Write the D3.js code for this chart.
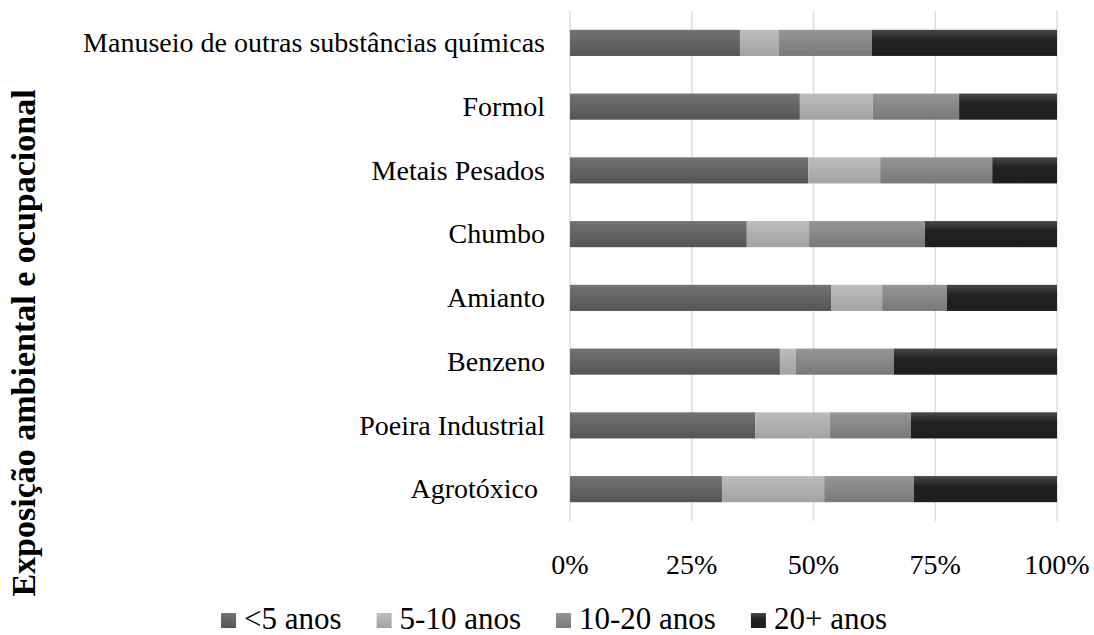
<!DOCTYPE html>
<html>
<head>
<meta charset="utf-8">
<script src="https://cdn.jsdelivr.net/npm/d3@7"></script>
<style>
  body { margin: 0; background: #fff; }
  text { font-family: "Liberation Serif", "Times New Roman", serif; fill: #000; }
</style>
</head>
<body>
<script>
// categories, top to bottom
var categories = ["Manuseio de outras substâncias químicas", "Formol", "Metais Pesados", "Chumbo",
                  "Amianto", "Benzeno", "Poeira Industrial", "Agrotóxico "];
var seriesNames = ["<5 anos", "5-10 anos", "10-20 anos", "20+ anos"];

// percentages
var menos5  = [34.9, 47.2, 48.9, 36.3, 53.6, 43.1, 38.0, 31.2];
var de5a10  = [8.0, 15.0, 14.8, 12.8, 10.5, 3.3, 15.4, 21.0];
var de10a20 = [19.1, 17.7, 23.0, 23.8, 13.3, 20.1, 16.6, 18.4];
var mais20  = [38.0, 20.1, 13.3, 27.1, 22.6, 33.5, 30.0, 29.4];

var ticks = [0, 25, 50, 75, 100];

var width = 1094,
    height = 635;

var svg = d3.select("body").append("svg")
    .attr("width", width)
    .attr("height", height);

// gradient fills (top lighter, bottom darker)
var grads = [
  [["0%", "#737373"], ["100%", "#545454"]],
  [["0%", "#bdbdbd"], ["100%", "#a2a2a2"]],
  [["0%", "#969696"], ["100%", "#787878"]],
  [["0%", "#484848"], ["40%", "#212121"], ["100%", "#1e1e1e"]]
];
var defs = svg.append("defs");
grads.forEach(function(stops, i) {
  var g = defs.append("linearGradient")
      .attr("id", "g" + i)
      .attr("x1", 0).attr("y1", 0).attr("x2", 0).attr("y2", 1);
  stops.forEach(function(s) {
    g.append("stop").attr("offset", s[0]).attr("stop-color", s[1]);
  });
});

var x = d3.scaleLinear()
    .domain([0, 100])
    .range([570, 1057]);

var y = d3.scaleBand()
    .domain(categories)
    .range([11, 521])
    .paddingInner(0.59)
    .paddingOuter(0.295);

// gridlines
svg.append("g")
  .selectAll("line")
  .data(ticks)
  .enter().append("line")
    .attr("x1", function(d) { return x(d); })
    .attr("x2", function(d) { return x(d); })
    .attr("y1", 11)
    .attr("y2", 521)
    .attr("stroke", "#d9dee6")
    .attr("stroke-width", 1.5);

var rows = categories.map(function(c, i) {
  return { cat: c, s0: menos5[i], s1: de5a10[i], s2: de10a20[i], s3: mais20[i] };
});

var stack = d3.stack().keys(["s0", "s1", "s2", "s3"]);
var layers = stack(rows);

svg.append("g")
  .selectAll("g")
  .data(layers)
  .enter().append("g")
    .attr("fill", function(d, i) { return "url(#g" + i + ")"; })
  .selectAll("rect")
  .data(function(d) { return d; })
  .enter().append("rect")
    .attr("x", function(d) { return x(d[0]); })
    .attr("width", function(d) { return x(d[1]) - x(d[0]); })
    .attr("y", function(d) { return y(d.data.cat); })
    .attr("height", y.bandwidth());

// category labels
svg.append("g")
  .selectAll("text")
  .data(categories)
  .enter().append("text")
    .attr("x", 545)
    .attr("y", function(d) { return y(d) + y.bandwidth() / 2; })
    .attr("dy", "0.33em")
    .attr("text-anchor", "end")
    .style("white-space", "pre")
    .style("font-size", "28px")
    .text(function(d) { return d; });

// x tick labels
svg.append("g")
  .selectAll("text")
  .data(ticks)
  .enter().append("text")
    .attr("x", function(d) { return x(d); })
    .attr("y", 574)
    .attr("text-anchor", "middle")
    .style("font-size", "28px")
    .text(function(d) { return d + "%"; });

// axis title
svg.append("text")
    .attr("transform", "translate(35,343) rotate(-90)")
    .attr("text-anchor", "middle")
    .style("font-size", "34px")
    .style("font-weight", "bold")
    .text("Exposição ambiental e ocupacional");

// legend
var legend = svg.append("g");
var lx = 0;
seriesNames.forEach(function(name, i) {
  var item = legend.append("g").attr("transform", "translate(" + lx + ",0)");
  item.append("rect")
      .attr("x", 0).attr("y", 613)
      .attr("width", 15).attr("height", 15)
      .attr("fill", "url(#g" + i + ")");
  var t = item.append("text")
      .attr("x", 23).attr("y", 629)
      .style("font-size", "31px")
      .text(name);
  lx += 23 + t.node().getComputedTextLength() + 35;
});
var lw = lx - 35;
legend.attr("transform", "translate(" + (554 - lw / 2) + ",0)");
</script>
</body>
</html>
